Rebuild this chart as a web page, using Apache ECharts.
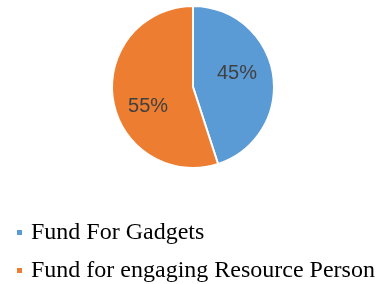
<!DOCTYPE html>
<html>
<head>
<meta charset="utf-8">
<script src="https://cdn.jsdelivr.net/npm/echarts@6/dist/echarts.min.js"></script>
<style>
  html, body { margin: 0; padding: 0; background: #fff; }
  #chart { width: 386px; height: 284px; }
</style>
</head>
<body>
<div id="chart"></div>
<script>
const categories = ['Fund For Gadgets', 'Fund for engaging Resource Person']
const shares = [45, 55]
const colors = ['#5B9BD5', '#ED7D31']

// nudge labels to where the original puts them
const labelShift = [[1, -7], [-2, 13]]

const chart = echarts.init(document.getElementById('chart'))

const option = {
    animation: false,
    color: colors,
    legend: {
        orient: 'vertical',
        left: 15,
        top: 220,
        padding: 0,
        icon: 'rect',
        itemWidth: 7,
        itemHeight: 7,
        itemGap: 13,
        data: categories,
        textStyle: {
            fontFamily: 'Liberation Serif',
            fontSize: 24,
            lineHeight: 25,
            color: '#000',
            padding: [0, 0, 0, 3],
        },
    },
    series: [{
        type: 'pie',
        center: [193, 87],
        radius: 81,
        startAngle: 90,
        clockwise: true,
        itemStyle: {
            borderColor: '#fff',
            borderWidth: 2,
        },
        label: {
            position: 'inside',
            formatter: '{c}%',
            fontFamily: 'Liberation Sans',
            fontSize: 20,
            color: '#404040',
        },
        labelLayout: (params) => {
            const s = labelShift[params.dataIndex]
            return {dx: s[0], dy: s[1]}
        },
        emphasis: {disabled: true},
        data: categories.map((name, i) => ({name: name, value: shares[i]})),
    }],
}
chart.setOption(option)
</script>
</body>
</html>
